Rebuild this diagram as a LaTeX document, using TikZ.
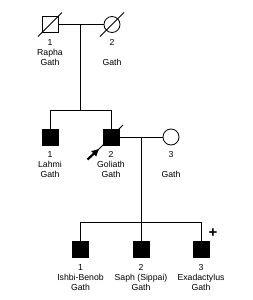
\documentclass[tikz,border=0pt]{standalone}
\usepackage{fontspec}
\setmainfont{Liberation Sans}
\usetikzlibrary{arrows.meta, calc, positioning}
\tikzset{
  male/.style={draw, line width=0.8pt, minimum size=16pt, inner sep=0pt},
  female/.style={draw, circle, line width=0.8pt, minimum size=16pt, inner sep=0pt},
  affected/.style={fill=black},
  link/.style={line width=0.8pt},
  lbl/.style={font=\fontsize{8.7}{10}\selectfont, align=center, inner sep=0pt},
  proband/.style={line width=2.2pt, -{Latex[length=8pt, width=8pt]}},
}
\newcommand{\deceased}[1]{\draw[link] (#1.center) ++(-12,12) -- ++(24,-24);}

\begin{document}
\begin{tikzpicture}[x=1pt, y=-1pt]
  \useasboundingbox (0,0) rectangle (252,300);
  % generation I
  \node[male] (rapha) at (50,24.5) {};
  \node[female] (raphawife) at (112,24.5) {};
  \deceased{rapha}
  \deceased{raphawife}
  \node[lbl, below=6pt of rapha] {1\\Rapha\\Gath};
  \node[lbl, below=6pt of raphawife] {2\\\phantom{G}\\Gath};
  \draw[link] (rapha) -- (raphawife);
  \coordinate (m1) at (80,24.5);
  \coordinate (s1) at (80,110);

  % generation II
  \node[male, affected] (lahmi) at (50,137) {};
  \node[male, affected] (goliath) at (111,137) {};
  \node[female] (goliathwife) at (171,137) {};
  \deceased{goliath}
  \node[lbl, below=6pt of lahmi] {1\\Lahmi\\Gath};
  \node[lbl, below=6pt of goliath] {2\\Goliath\\Gath};
  \node[lbl, below=6pt of goliathwife] {3\\\phantom{G}\\Gath};
  \draw[link] (m1) -- (s1);
  \draw[link] (lahmi) -- (lahmi |- s1) -- (goliath |- s1) -- (goliath);
  \draw[link] (goliath) -- (goliathwife);
  \coordinate (pb) at (87.5,159.5);
  \draw[proband] (pb) -- ($(goliath.south west)+(-3,3)$);
  \coordinate (m2) at (141,137);
  \coordinate (s2) at (141,222);

  % generation III
  \node[male, affected] (ishbi) at (80.5,249.5) {};
  \node[male, affected] (saph) at (141,249.5) {};
  \node[male, affected] (exa) at (201,249.5) {};
  \node[lbl, below=6pt of ishbi] {1\\Ishbi-Benob\\Gath};
  \node[lbl, below=6pt of saph] {2\\Saph (Sippai)\\Gath};
  \node[lbl, below=6pt of exa] {3\\Exadactylus\\Gath};
  \node[font=\fontsize{15}{15}\selectfont\bfseries, inner sep=0pt] (plus) at (213,233) {+};
  \draw[link] (m2) -- (saph);
  \draw[link] (ishbi) -- (ishbi |- s2) -- (exa |- s2) -- (exa);
\end{tikzpicture}
\end{document}
